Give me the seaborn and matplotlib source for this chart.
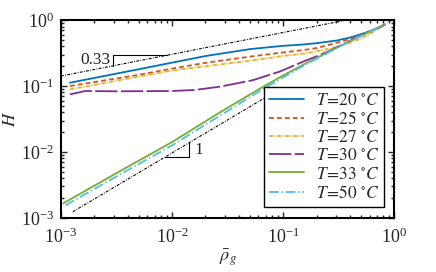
import numpy as np
import pandas as pd
import seaborn as sns
import matplotlib
matplotlib.use('Agg')
import matplotlib.pyplot as plt

# curves as log10 values (log rho_g, log H)
logx_20 = [-2.92, -2.7, -2.3, -2.0, -1.7, -1.3, -1.0, -0.82, -0.7, -0.52, -0.4, -0.3, -0.22, -0.15, -0.08]
logy_20 = [-0.95, -0.877, -0.745, -0.645, -0.545, -0.44, -0.39, -0.37, -0.35, -0.31, -0.265, -0.214, -0.17, -0.12, -0.065]

logx_25 = [-2.92, -2.7, -2.3, -2.0, -1.7, -1.3, -1.0, -0.82, -0.7, -0.52, -0.4, -0.3, -0.22, -0.15, -0.08]
logy_25 = [-1.0, -0.94, -0.83, -0.735, -0.648, -0.554, -0.49, -0.455, -0.425, -0.345, -0.286, -0.229, -0.17, -0.125, -0.065]

logx_27 = [-2.92, -2.7, -2.3, -2.0, -1.7, -1.3, -1.0, -0.82, -0.7, -0.52, -0.4, -0.3, -0.22, -0.15, -0.08]
logy_27 = [-1.05, -0.982, -0.857, -0.764, -0.70, -0.616, -0.543, -0.51, -0.475, -0.41, -0.345, -0.28, -0.21, -0.14, -0.065]

logx_30 = [-2.92, -2.78, -2.5, -2.0, -1.8, -1.57, -1.27, -1.03, -0.82, -0.7, -0.6, -0.4, -0.2, -0.08]
logy_30 = [-1.126, -1.075, -1.08, -1.075, -1.06, -1.01, -0.91, -0.78, -0.63, -0.55, -0.48, -0.315, -0.158, -0.065]

logx_33 = [-2.98, -2.5, -2.0, -1.57, -1.2, -1.0, -0.8, -0.6, -0.4, -0.2, -0.08]
logy_33 = [-2.78, -2.32, -1.85, -1.40, -1.03, -0.84, -0.66, -0.49, -0.32, -0.16, -0.065]

logx_50 = [-2.96, -2.5, -2.0, -1.57, -1.2, -1.0, -0.8, -0.6, -0.4, -0.2, -0.08]
logy_50 = [-2.81, -2.37, -1.90, -1.45, -1.065, -0.87, -0.675, -0.50, -0.32, -0.16, -0.065]

temps = [20, 25, 27, 30, 33, 50]
colors = ['#0072BD', '#D95319', '#EDB120', '#7E2F8E', '#77AC30', '#4DBEEE']
styles = ['-', (0, (3.5, 2.2)), (0, (3.0, 1.0, 0.8, 1.0)), (0, (16, 2.5)), '-', (0, (7, 2, 1, 2))]

# slope guide lines (end points)
guide_top_x = [1e-3, 0.37]
guide_top_y = [0.142, 1.0]
guide_bot_x = [1.28e-3, 0.09]
guide_bot_y = [1.24e-3, 0.087]

curves = [(logx_20, logy_20), (logx_25, logy_25), (logx_27, logy_27),
          (logx_30, logy_30), (logx_33, logy_33), (logx_50, logy_50)]

frames = []
for t, (lx, ly) in zip(temps, curves):
    frames.append(pd.DataFrame({'rho': 10 ** np.array(lx), 'H': 10 ** np.array(ly), 'T': t}))
df = pd.concat(frames, ignore_index=True)

sns.set_style('ticks')
plt.rcParams['font.family'] = ['Liberation Serif', 'DejaVu Serif']
plt.rcParams['mathtext.fontset'] = 'stix'
plt.rcParams['lines.scale_dashes'] = False
plt.rcParams['xtick.direction'] = 'in'
plt.rcParams['ytick.direction'] = 'in'

fig = plt.figure(figsize=(4.36, 2.72), dpi=100)
ax = fig.add_axes([0.140, 0.199, 0.764, 0.727])

# reference slopes
ax.plot(guide_top_x, guide_top_y, color='black', lw=0.8, linestyle=(0, (2, 1, 0.6, 1)), zorder=1)
ax.plot(guide_bot_x, guide_bot_y, color='black', lw=0.8, linestyle=(0, (2, 1, 0.6, 1)), zorder=1)

for t, c, s in zip(temps, colors, styles):
    sub = df[df['T'] == t]
    sns.lineplot(data=sub, x='rho', y='H', ax=ax, color=c, linestyle=s, lw=1.3,
                 label=r'$T\!=\!%d\ ^{\circ}C$' % t, zorder=2)

# slope triangles
x1, x2 = 0.00294, 0.0090
ya = 0.142 * (x1 / 1e-3) ** 0.33
yb = 0.142 * (x2 / 1e-3) ** 0.33
ax.plot([x1, x1, x2], [ya, yb, yb], color='black', lw=0.8)
ax.text(x1 * 0.95, 0.245, '0.33', ha='right', va='center', fontsize=12.5)

x3, x4 = 0.0087, 0.0142
ax.plot([x3, x4, x4], [x3 * 0.97, x3 * 0.97, x4 * 0.97], color='black', lw=0.8)
ax.text(x4 * 1.12, 0.0107, '1', ha='left', va='center', fontsize=12.5)

ax.set_xscale('log')
ax.set_yscale('log')
ax.set_xlim(1e-3, 1)
ax.set_ylim(1e-3, 1)
ax.set_xlabel(r'$\bar{\rho}_g$', fontsize=13, labelpad=0)
ax.set_ylabel(r'$\overline{H}$', fontsize=13, labelpad=1)
ax.tick_params(which='both', top=True, right=True, labelsize=13, width=1.0)
ax.tick_params(which='major', length=4.5)
ax.tick_params(which='minor', length=2.5)
ax.tick_params(axis='x', which='major', pad=7)
ax.tick_params(axis='y', which='major', pad=5)
for sp in ax.spines.values():
    sp.set_linewidth(1.5)
    sp.set_color('black')

leg = ax.legend(loc='lower right', bbox_to_anchor=(0.97, 0.056), fontsize=12.5,
                frameon=True, fancybox=False, edgecolor='black', framealpha=1,
                handlelength=2.0, labelspacing=0.12, borderpad=0.3, handletextpad=0.7,
                borderaxespad=0)
leg.get_frame().set_linewidth(1.0)

fig.savefig('out.png', dpi=100)
